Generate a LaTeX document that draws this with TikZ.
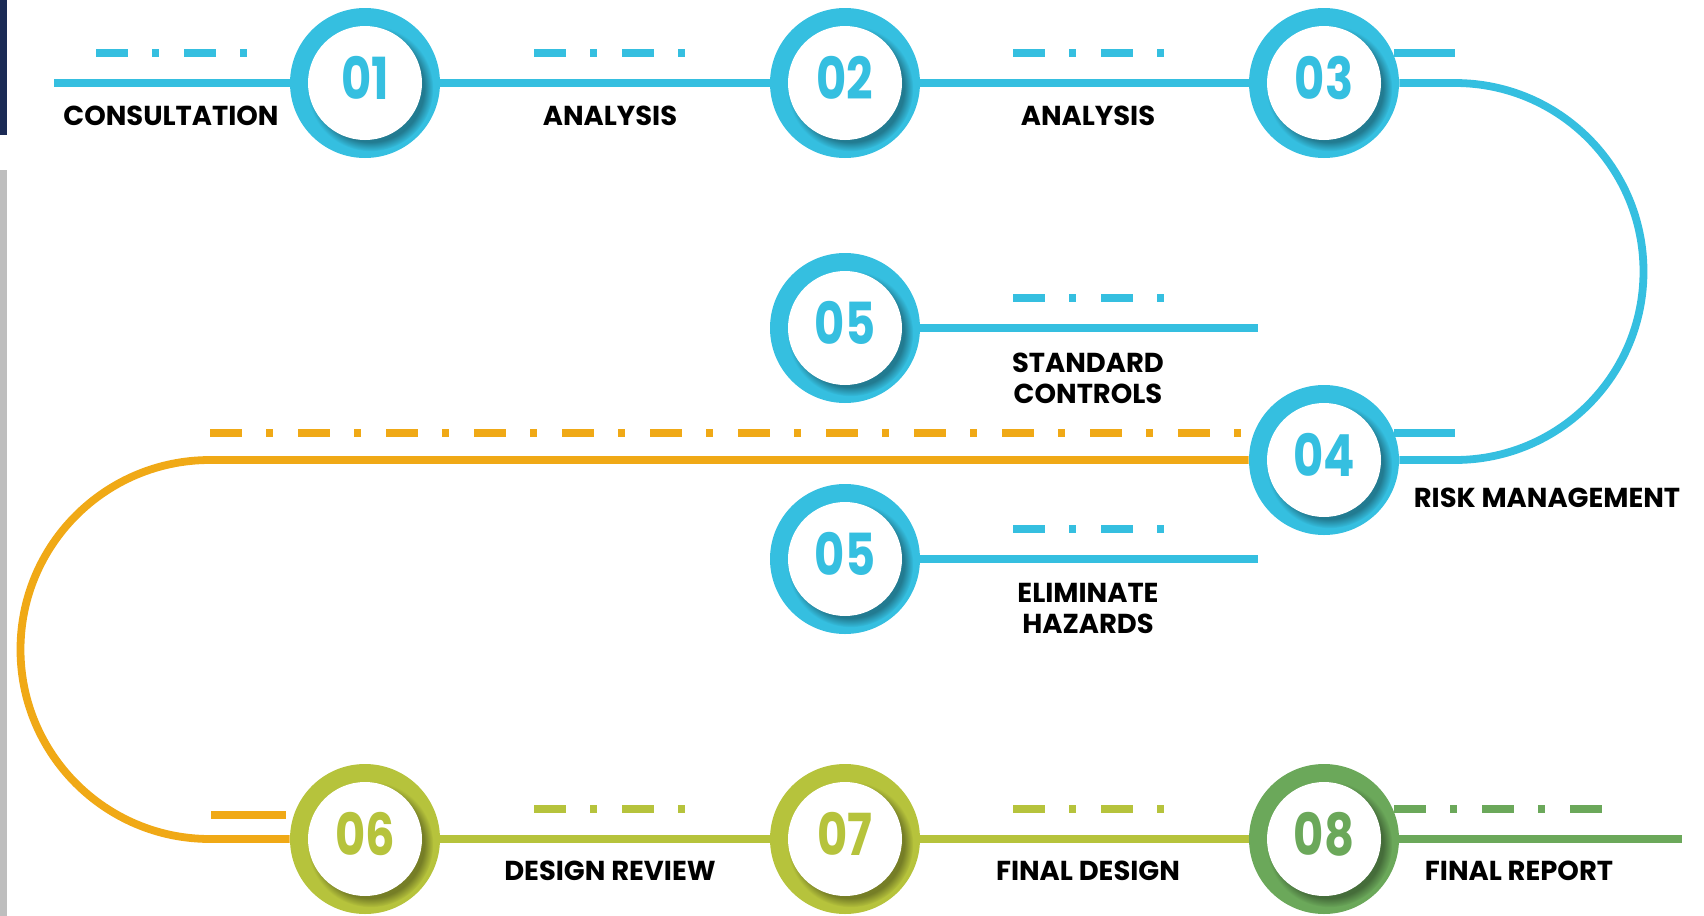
\documentclass[tikz,border=0pt]{standalone}
\usepackage{fontspec}
\setmainfont{Poppins}
\newfontfamily\numfont{Poppins}[FakeStretch=0.8]
\usetikzlibrary{shadows}
\definecolor{cblue}{HTML}{35BFE0}
\definecolor{corange}{HTML}{F0A916}
\definecolor{clime}{HTML}{B6C33C}
\definecolor{cgreen}{HTML}{6BA85A}
\definecolor{cnavy}{HTML}{1B2B55}
\definecolor{cgrey}{HTML}{BEBEBE}
\tikzset{
	ring/.style={circle,fill=#1,minimum size=75pt,inner sep=0pt},
	disc/.style={circle,fill=white,minimum size=57pt,inner sep=0pt,text=#1,
		text height=20.5pt,text depth=4.5pt,
		font=\numfont\bfseries\fontsize{29}{29}\selectfont,
		circular drop shadow={shadow xshift=2.5pt,shadow yshift=-2.5pt,fill=#1!50!black,opacity=0.7}},
	ln/.style={draw=#1,line width=3.9pt},
	dashdot/.style={draw=#1,line width=4pt,dash pattern=on 16pt off 12pt on 3.5pt off 12.5pt},
	lbl/.style={font=\bfseries\fontsize{13.7}{15.5}\selectfont,align=center,inner sep=0pt}
}
\begin{document}
\begin{tikzpicture}[x=0.5pt,y=-0.5pt]
	\useasboundingbox (0,0) rectangle (1704,916);
	\fill[cnavy] (0,0) rectangle (7,135);
	\fill[cgrey] (0,170) rectangle (7,916);
	% steps
	\foreach \n/\t/\x/\y/\c in {1/01/365/83/cblue,2/02/845/83/cblue,3/03/1324/83/cblue,
		5a/05/845/328/cblue,4/04/1324/460/cblue,5b/05/845/559/cblue,
		6/06/365/839/clime,7/07/845/839/clime,8/08/1324/839/cgreen}{
		\node[ring=\c] (r\n) at (\x,\y) {};
		\node[disc=\c] (c\n) at (\x,\y) {\t};
	}
	% connectors
	\coordinate (s1) at (54,83);
	\coordinate (t3) at (1455,83);
	\coordinate (t5a) at (1258,328);
	\coordinate (t5b) at (1258,559);
	\coordinate (t4) at (210,460);
	\coordinate (t8) at (1682,839);
	\draw[ln=cblue] (s1) -- (r1.west);
	\draw[ln=cblue] (r1.east) -- (r2.west);
	\draw[ln=cblue] (r2.east) -- (r3.west);
	\draw[ln=cblue] (r3.east) -- (t3) arc[start angle=-90,end angle=90,radius=188.5] -- (r4.east);
	\draw[ln=cblue] (r5a.east) -- (t5a);
	\draw[ln=cblue] (r5b.east) -- (t5b);
	\draw[ln=corange] (r4.west) -- (t4) arc[start angle=-90,end angle=-270,radius=189.5] -- (r6.west);
	\draw[ln=clime] (r6.east) -- (r7.west);
	\draw[ln=clime] (r7.east) -- (r8.west);
	\draw[ln=cgreen] (r8.east) -- (t8);
	% dash marks
	\draw[dashdot=cblue] (96,53) -- (247,53);
	\draw[dashdot=cblue] (534,53) -- (685,53);
	\draw[dashdot=cblue] (1013,53) -- (1164,53);
	\draw[dashdot=cblue] (1013,298) -- (1164,298);
	\draw[dashdot=corange] (210,433) -- (1241,433);
	\draw[dashdot=cblue] (1013,529) -- (1164,529);
	\draw[dashdot=clime] (534,809) -- (685,809);
	\draw[dashdot=clime] (1013,809) -- (1164,809);
	\draw[dashdot=cgreen] (1394,809) -- (1602,809);
	\draw[ln=cblue] (1394,53) -- (1455,53);
	\draw[ln=cblue] (1394,433) -- (1455,433);
	\draw[ln=corange] (211,815) -- (286,815);
	% labels
	\node[lbl] (l1) at (171,116) {CONSULTATION};
	\node[lbl] (l2) at (610,116) {ANALYSIS};
	\node[lbl] (l3) at (1088,116) {ANALYSIS};
	\node[lbl] (l5a) at (1088,378) {STANDARD\\CONTROLS};
	\node[lbl] (l4) at (1547,498) {RISK MANAGEMENT};
	\node[lbl] (l5b) at (1088,608) {ELIMINATE\\HAZARDS};
	\node[lbl] (l6) at (610,871) {DESIGN REVIEW};
	\node[lbl] (l7) at (1088,871) {FINAL DESIGN};
	\node[lbl] (l8) at (1519,871) {FINAL REPORT};
\end{tikzpicture}
\end{document}
